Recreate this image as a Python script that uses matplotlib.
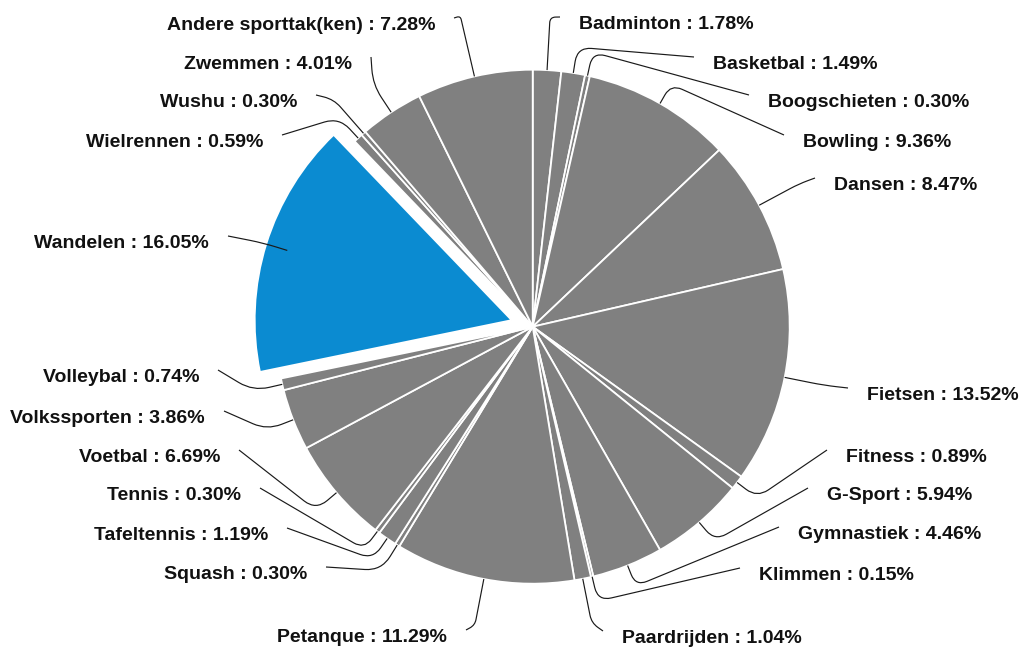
import numpy as np
import matplotlib.pyplot as plt
from matplotlib.path import Path
from matplotlib.patches import PathPatch

# share of members per sport (%)
sports = ['Badminton', 'Basketbal', 'Boogschieten', 'Bowling', 'Dansen', 'Fietsen',
          'Fitness', 'G-Sport', 'Gymnastiek', 'Klimmen', 'Paardrijden', 'Petanque',
          'Squash', 'Tafeltennis', 'Tennis', 'Voetbal', 'Volkssporten', 'Volleybal',
          'Wandelen', 'Wielrennen', 'Wushu', 'Zwemmen', 'Andere sporttak(ken)']
shares = [1.78, 1.49, 0.30, 9.36, 8.47, 13.52, 0.89, 5.94, 4.46, 0.15, 1.04, 11.29,
          0.30, 1.19, 0.30, 6.69, 3.86, 0.74, 16.05, 0.59, 0.30, 4.01, 7.28]
highlight = 'Wandelen'

# label layout in pixels (x = text edge nearest the pie, y from top), elbow offset
label_x = [579, 713, 768, 803, 834, 867, 846, 827, 798, 759, 622, 447,
           307, 268, 241, 220, 205, 199, 209, 263, 297, 352, 435]
label_y = [22, 62, 100, 140, 183, 393, 455, 493, 532, 573, 636, 635,
           572, 533, 493, 455, 416, 375, 241, 140, 100, 62, 23]
elbow = [53, 26, 24, 22, 45, 40, 25, 24, 22, 25, 45, 47,
         30, 25, 22, 27, 28, 30, 25, 28, 45, 33, 62]

W, H = 1021, 648
cx, cy, R = 532.7, H - 326.7, 257

fig = plt.figure(figsize=(W / 100, H / 100), dpi=100)
ax = fig.add_axes([0, 0, 1, 1])

colors = ['#0b8bd1' if s == highlight else '#808080' for s in sports]
explode = [22 if s == highlight else 0 for s in sports]   # offset in data units (px)
wedges, _ = ax.pie(shares, colors=colors, explode=explode, startangle=90,
                   counterclock=False, radius=R, center=(cx, cy),
                   wedgeprops=dict(edgecolor='white', linewidth=1.3))

ax.set_xlim(0, W)
ax.set_ylim(0, H)
ax.set_aspect('equal')
ax.axis('off')

for name, val, w, lx, ly, e in zip(sports, shares, wedges, label_x, label_y, elbow):
    th = np.deg2rad((w.theta1 + w.theta2) / 2)
    d = np.array([np.cos(th), np.sin(th)])
    A = np.array([cx, cy]) + R * d
    E = np.array([cx, cy]) + (R + e) * d
    left = lx < cx
    C = np.array([lx + 19 if left else lx - 19, H - ly + 5])
    # straight runs with a rounded corner at the elbow
    t = min(18, 0.55 * np.linalg.norm(A - E), 0.55 * np.linalg.norm(C - E))
    Pa = E + (A - E) / np.linalg.norm(A - E) * t
    Pb = E + (C - E) / max(np.linalg.norm(C - E), 1e-6) * t
    path = Path([A, Pa, E, Pb, C],
                [Path.MOVETO, Path.LINETO, Path.CURVE3, Path.CURVE3, Path.LINETO])
    ax.add_patch(PathPatch(path, fill=False, edgecolor='#1a1a1a', linewidth=0.85))
    ax.text(lx, H - ly - 7, f'{name} : {val:.2f}%', ha='right' if left else 'left',
            va='baseline', fontsize=14, fontweight='bold', family='Liberation Sans',
            color='#111111')

fig.savefig('out.png', dpi=100)
